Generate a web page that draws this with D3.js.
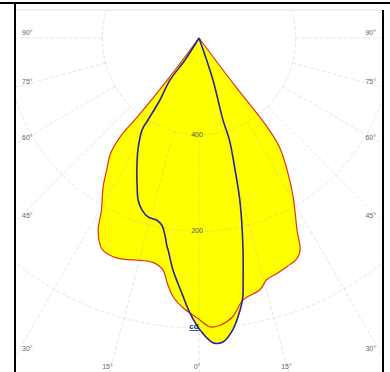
<!DOCTYPE html>
<html><head><meta charset="utf-8">
<script src="https://cdn.jsdelivr.net/npm/d3@7"></script>
<style>html,body{margin:0;padding:0;background:#fff}svg{display:block}</style>
</head><body>
<svg id="chart" width="390" height="372"></svg>
<script>
// Polar intensity diagram: light source at the top, 0° pointing straight down.
const gridAngles = [-90, -75, -60, -45, -30, -15, 0, 15, 30, 45, 60, 75, 90];
const gridLabels = gridAngles.map(a => Math.abs(a) + "°");
const ringValues = [400, 200, 0];
const ringLabels = ["400", "200"];
const unitLabel = "cd";

// First plane (filled, red outline): angle in degrees, value on the radial axis
const planeAAngles = [-37, -37, -38, -38.6, -37.5, -35, -32.8, -29.5, -27.7, -25.6, -24.4, -20.4, -14.9, -11.6, -8.8, -7.4, -5.7, -3.4, -0.4, 2.2, 4.2, 6.9, 9.5, 13.6, 15.7, 18.4, 21, 24, 25.5, 27, 30.6, 33.7, 36.5, 37.5, 37, 36.5];
const planeAValues = [600, 497, 393, 341, 300, 267, 234, 190, 151, 126, 118, 114, 124, 126, 114, 89, 62, 41, 21, 2, 4, 19, 50, 64, 81, 87, 93, 101, 114, 153, 217, 271, 321, 372, 476, 600];

// Second plane (blue outline)
const planeBAngles = [-33, -32.5, -34.6, -32.2, -31.9, -31.8, -28.6, -25.2, -22.6, -20.6, -18.3, -15.9, -13, -11.2, -9.8, -8.7, -8.3, -6.4, -3.8, -1.9, 0.2, 2.6, 4.5, 6.6, 8.6, 9.6, 10.2, 11.8, 14, 15.3, 16.6, 16.3, 18.4, 20];
const planeBValues = [600, 546, 494, 449, 399, 377, 336, 298, 267, 242, 225, 215, 213, 205, 186, 163, 157, 117, 70, 31, -4, -31, -31, -8, 31, 56, 85, 155, 248, 317, 379, 424, 509, 600];

const svg = d3.select("#chart");
const W = 390, H = 372;
const frame = {left: 15, right: 383, top: 3};
const plot = {x0: 16, x1: 382, y0: 10, y1: 372};
const cx = 199, cy = 38;

const r = d3.scaleLinear().domain([600, 0]).range([0, 290]);
const toRad = a => Math.PI - a * Math.PI / 180;

svg.append("defs").append("clipPath").attr("id", "plotClip")
  .append("rect").attr("x", plot.x0).attr("y", plot.y0)
  .attr("width", plot.x1 - plot.x0).attr("height", plot.y1 - plot.y0);

const root = svg.append("g").attr("clip-path", "url(#plotClip)");
const g = root.append("g").attr("transform", `translate(${cx},${cy})`);

const planeA = planeAAngles.map((a, i) => ({a, v: planeAValues[i]}));
const planeB = planeBAngles.map((a, i) => ({a, v: planeBValues[i]}));

const radial = d3.lineRadial()
  .angle(d => toRad(d.a))
  .radius(d => r(d.v))
  .curve(d3.curveCatmullRom.alpha(0.5));

// fills
g.append("path").attr("d", radial(planeA)).attr("fill", "#ffff00").attr("stroke", "none");
g.append("path").attr("d", radial(planeB)).attr("fill", "#ffff00").attr("stroke", "none");

// grid: rings and radial spokes
const grid = g.append("g").attr("fill", "none").attr("stroke", "#b4b4b4")
  .attr("stroke-opacity", 0.5).attr("stroke-width", 0.7).attr("stroke-dasharray", "4,2");
grid.selectAll("circle").data(ringValues).join("circle")
  .attr("r", d => r(d));
grid.selectAll("line").data(gridAngles).join("line")
  .attr("x1", a => r(400) * Math.sin(a * Math.PI / 180))
  .attr("y1", a => r(400) * Math.cos(a * Math.PI / 180))
  .attr("x2", a => 600 * Math.sin(a * Math.PI / 180))
  .attr("y2", a => 600 * Math.cos(a * Math.PI / 180));

// outlines
g.append("path").attr("d", radial(planeA)).attr("fill", "none")
  .attr("stroke", "#e2321c").attr("stroke-width", 1.2);
g.append("path").attr("d", radial(planeB)).attr("fill", "none")
  .attr("stroke", "#26269a").attr("stroke-width", 1.6);

// ring labels
g.selectAll("text.ring").data(ringLabels).join("text").attr("class", "ring")
  .attr("x", -2).attr("y", (d, i) => r(ringValues[i]))
  .attr("text-anchor", "middle").attr("dominant-baseline", "middle")
  .attr("font-family", "Liberation Sans, Arial, sans-serif").attr("font-size", 7)
  .attr("fill", "#555").text(d => d);

g.append("text").attr("x", -5).attr("y", r(ringValues[2]) - 1)
  .attr("text-anchor", "middle").attr("dominant-baseline", "middle")
  .attr("font-family", "Liberation Sans, Arial, sans-serif").attr("font-size", 8)
  .attr("font-weight", "bold").attr("text-decoration", "underline")
  .attr("fill", "#1c2a7a").text(unitLabel);

// angle labels at the edge of the plot area
const labelBox = {left: 22, right: 376, bottom: 367};
gridAngles.forEach((a, i) => {
  const s = Math.sin(a * Math.PI / 180), c = Math.cos(a * Math.PI / 180);
  const tx = Math.abs(s) > 1e-6 ? (s < 0 ? cx - plot.x0 : plot.x1 - cx) / Math.abs(s) : Infinity;
  const ty = c > 1e-6 ? (plot.y1 - cy) / c : Infinity;
  const t = Math.min(tx, ty);
  const px = cx + t * s, py = cy + t * c;
  let x, y, anchor;
  if (tx <= ty) {
    x = s < 0 ? labelBox.left : labelBox.right;
    anchor = s < 0 ? "start" : "end";
    y = Math.min(py - 5, 349);
  } else {
    x = px - 2; y = labelBox.bottom; anchor = "middle";
  }
  svg.append("text").attr("x", x).attr("y", y)
    .attr("text-anchor", anchor).attr("dominant-baseline", "middle")
    .attr("font-family", "Liberation Sans, Arial, sans-serif").attr("font-size", 7)
    .attr("fill", "#666").text(gridLabels[i]);
});

// frame
svg.append("line").attr("x1", 0).attr("x2", W).attr("y1", frame.top).attr("y2", frame.top)
  .attr("stroke", "#000").attr("stroke-width", 2);
svg.append("line").attr("x1", frame.left).attr("x2", frame.left).attr("y1", frame.top).attr("y2", H)
  .attr("stroke", "#000").attr("stroke-width", 2);
svg.append("line").attr("x1", frame.right).attr("x2", frame.right).attr("y1", plot.y0).attr("y2", H)
  .attr("stroke", "#000").attr("stroke-width", 2);
svg.append("line").attr("x1", plot.x0).attr("x2", plot.x1).attr("y1", plot.y0).attr("y2", plot.y0)
  .attr("stroke", "#ddd").attr("stroke-width", 0.8);
</script>
</body></html>
